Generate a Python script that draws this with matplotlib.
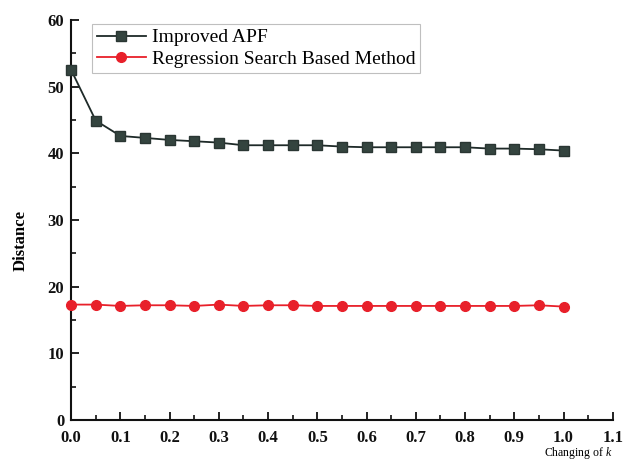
import matplotlib
matplotlib.use("Agg")
import matplotlib.pyplot as plt
from matplotlib.ticker import MultipleLocator

k_values = [0.0, 0.05, 0.1, 0.15, 0.2, 0.25, 0.3, 0.35, 0.4, 0.45, 0.5,
            0.55, 0.6, 0.65, 0.7, 0.75, 0.8, 0.85, 0.9, 0.95, 1.0]
improved_apf = [52.5, 44.9, 42.6, 42.3, 42.0, 41.8, 41.6, 41.2, 41.2, 41.2, 41.2,
                41.0, 40.9, 40.9, 40.9, 40.9, 40.9, 40.7, 40.7, 40.6, 40.4]
regression = [17.3, 17.3, 17.1, 17.2, 17.2, 17.1, 17.3, 17.1, 17.2, 17.2, 17.1,
              17.1, 17.1, 17.1, 17.1, 17.1, 17.1, 17.1, 17.1, 17.2, 17.0]
x_ticks = [0.0, 0.1, 0.2, 0.3, 0.4, 0.5, 0.6, 0.7, 0.8, 0.9, 1.0, 1.1]
y_ticks = [0, 10, 20, 30, 40, 50, 60]

plt.rcParams['font.family'] = ['Liberation Serif', 'DejaVu Serif']
plt.rcParams['mathtext.fontset'] = 'custom'
plt.rcParams['mathtext.it'] = 'Liberation Serif:italic'
plt.rcParams['mathtext.rm'] = 'Liberation Serif'

fig = plt.figure(figsize=(6.35, 4.63), dpi=100)
ax = fig.add_axes([0.112, 0.093, 0.853, 0.864])

ax.plot(k_values, improved_apf, color='#1e2a28', marker='s', markersize=7,
        markerfacecolor='#34443f', markeredgecolor='#2a3633', linewidth=1.3,
        label='Improved APF', clip_on=False, zorder=3)
ax.plot(k_values, regression, color='#e8202a', marker='o', markersize=7,
        markerfacecolor='#e8202a', markeredgecolor='#e8202a', linewidth=1.3,
        label='Regression Search Based Method', clip_on=False, zorder=3)

ax.set_xlim(0, 1.1)
ax.set_ylim(0, 60)
ax.set_xticks(x_ticks)
ax.set_xticklabels([f"{t:.1f}" for t in x_ticks])
ax.set_yticks(y_ticks)
ax.xaxis.set_minor_locator(MultipleLocator(0.05))
ax.yaxis.set_minor_locator(MultipleLocator(5))

for s in ['top', 'right']:
    ax.spines[s].set_visible(False)
for s in ['left', 'bottom']:
    ax.spines[s].set_linewidth(1.5)
    ax.spines[s].set_color('#111111')

ax.tick_params(which='major', direction='in', length=6, width=1.3, labelsize=12,
               colors='#111111')
ax.tick_params(axis='x', which='major', pad=7)
ax.tick_params(axis='y', which='major', pad=5)
ax.tick_params(which='minor', direction='in', length=3.5, width=1.2, colors='#111111')
for lbl in ax.get_xticklabels() + ax.get_yticklabels():
    lbl.set_fontweight('bold')

ax.set_ylabel('Distance', fontsize=12, fontweight='bold')
ax.yaxis.set_label_coords(-0.078, 0.4475)
ax.text(1.0, -0.083, 'Changing of $k$', transform=ax.transAxes, fontsize=8.5,
        ha='right', va='center')

leg = ax.legend(loc='upper left', bbox_to_anchor=(0.039, 0.99), fontsize=14,
                frameon=True, fancybox=False, edgecolor='#b0b0b0',
                handlelength=2.5, borderpad=0.25, labelspacing=0.2,
                handletextpad=0.3, borderaxespad=0)
leg.get_frame().set_linewidth(0.8)

fig.savefig('out.png', dpi=100)
